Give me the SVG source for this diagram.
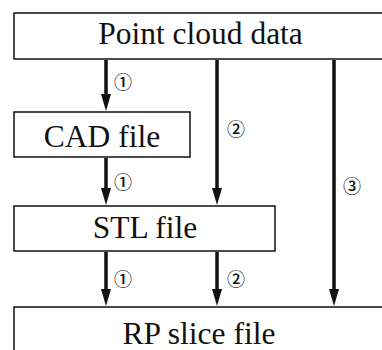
<svg xmlns="http://www.w3.org/2000/svg" width="382" height="350" viewBox="0 0 382 350">
<style>
.box{fill:#fff;stroke:#111;stroke-width:1.5}
.lbl{font-family:"Liberation Serif","Times New Roman",serif;font-size:31.5px;fill:#111;text-anchor:middle}
.num{font-family:"Noto Sans CJK JP","DejaVu Sans",sans-serif;font-size:18px;font-weight:500;fill:#111;text-anchor:middle}
.conn{stroke:#111;stroke-width:3.5;fill:none}
.head{fill:#111}
</style>
<rect width="382" height="350" fill="#fff"/>
<g id="point-cloud"><rect class="box" x="14" y="13" width="380" height="46"/><text class="lbl" x="200.5" y="44">Point cloud data</text></g>
<g id="cad"><rect class="box" x="14" y="112" width="176" height="45"/><text class="lbl" x="102" y="147">CAD file</text></g>
<g id="stl"><rect class="box" x="14" y="206" width="261" height="45"/><text class="lbl" x="145" y="238">STL file</text></g>
<g id="rp"><rect class="box" x="14" y="307" width="380" height="60"/><text class="lbl" x="199" y="344">RP slice file</text></g>
<g id="connectors">
<path class="conn" d="M106,60 V96"/>
<path class="conn" d="M106,158 V190"/>
<path class="conn" d="M217,60 V190"/>
<path class="conn" d="M106,252 V291"/>
<path class="conn" d="M217,252 V291"/>
<path class="conn" d="M334,60 V291"/>
<path class="head" d="M101,94 L111,94 L106,111 Z"/>
<path class="head" d="M101,188 L111,188 L106,205 Z"/>
<path class="head" d="M212,188 L222,188 L217,205 Z"/>
<path class="head" d="M101,289 L111,289 L106,306 Z"/>
<path class="head" d="M212,289 L222,289 L217,306 Z"/>
<path class="head" d="M329,289 L339,289 L334,306 Z"/>
<text class="num" x="123" y="89">①</text>
<text class="num" x="123" y="189">①</text>
<text class="num" x="123" y="286">①</text>
<text class="num" x="236" y="136">②</text>
<text class="num" x="236" y="286">②</text>
<text class="num" x="352" y="193">③</text>
</g>
</svg>
